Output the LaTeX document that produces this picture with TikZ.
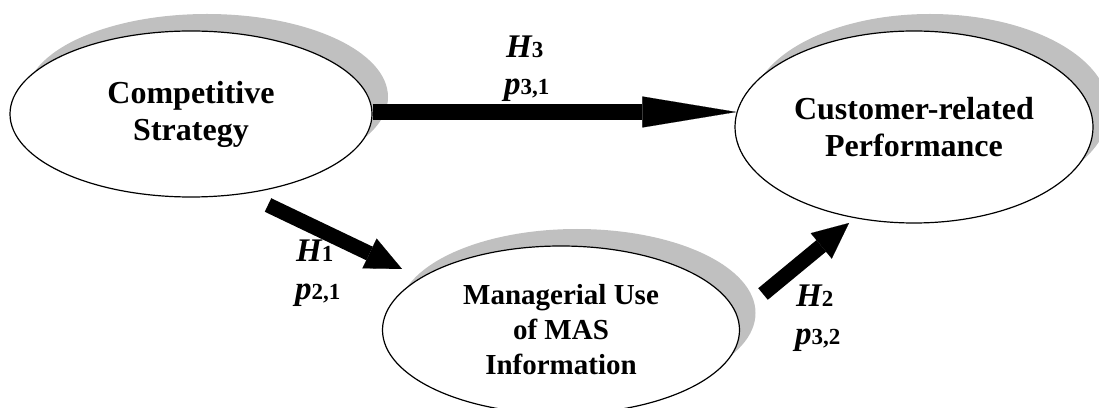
\documentclass[tikz,border=0pt]{standalone}
\usepackage{fontspec}
\setmainfont{Liberation Serif}
\usetikzlibrary{shapes.geometric,arrows.meta,shadows}
\definecolor{shadowgray}{RGB}{192,192,192}
\newcommand{\hlab}[2]{{\fontsize{33}{33}\selectfont\bfseries\itshape #1}{\fontsize{23}{23}\selectfont\bfseries #2}}
\begin{document}
\begin{tikzpicture}[x=1pt,y=1pt,
  construct/.style={ellipse, draw=black, line width=1.2pt, fill=white, inner sep=0pt, align=center,
    font=\fontsize{32}{37}\selectfont\bfseries,
    drop shadow={shadow xshift=16pt, shadow yshift=17pt, fill=shadowgray, opacity=1}},
  bigarrow/.style={line width=15pt, -{Triangle[length=36pt,width=33pt,line width=0.1pt]}},
  h3arrow/.style={line width=16pt, -{Triangle[length=94pt,width=31pt,line width=0.1pt]}},
  lab/.style={anchor=base west, inner sep=0pt}
]
\useasboundingbox (0,0) rectangle (1099,407);
\clip (0,0) rectangle (1099,407);

\node[construct, minimum width=362pt, minimum height=166pt] (cs) at (191,293) {Competitive\\Strategy};
\node[construct, minimum width=358pt, minimum height=192pt] (crp) at (914,280) {Customer-related\\Performance};
\node[construct, minimum width=357pt, minimum height=168pt, font=\fontsize{29}{35}\selectfont\bfseries] (mu) at (561,77) {Managerial Use\\of MAS\\Information};

\coordinate (h1s) at (268,202);
\coordinate (h1e) at (402,138);
\coordinate (h2s) at (763,113);
\coordinate (h2e) at (849,184);

\draw[h3arrow] ([yshift=2pt]cs.east) -- ([yshift=15pt,xshift=2pt]crp.west);
\draw[bigarrow] (h1s) -- (h1e);
\draw[bigarrow] (h2s) -- (h2e);

\node[lab] (h3) at (506,349) {\hlab{H}{3}};
\node[lab] (p31) at (504,312) {\hlab{p}{3,1}};
\node[lab] (h1) at (296,145) {\hlab{H}{1}};
\node[lab] (p21) at (295,107) {\hlab{p}{2,1}};
\node[lab] (h2) at (796,101) {\hlab{H}{2}};
\node[lab] (p32) at (795,63) {\hlab{p}{3,2}};
\end{tikzpicture}
\end{document}
